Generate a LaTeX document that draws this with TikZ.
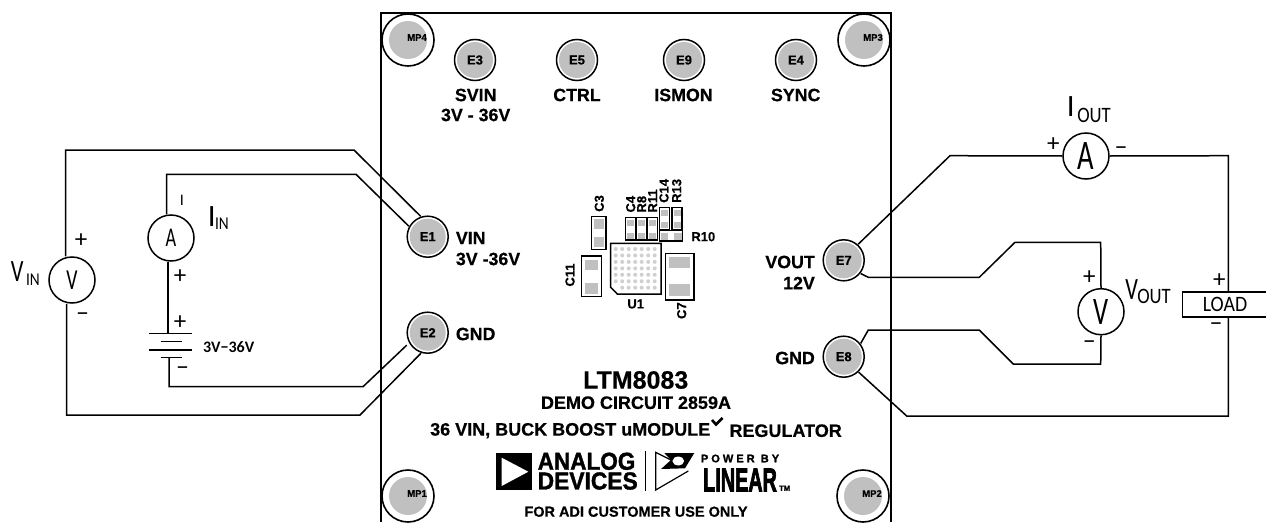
\documentclass[tikz,border=0pt]{standalone}
\usepackage{fontspec}
\usepackage{graphicx}
\setmainfont{Liberation Sans}
\newfontfamily\thinf{Carlito}
\newfontface\lab{Liberation Sans Bold}[FakeBold=0.5]
\newfontface\heavy{Liberation Sans Bold}[FakeBold=1.5]
\newfontface\xheavy{Liberation Sans Bold}[FakeBold=3]
\usetikzlibrary{calc}
\newcommand{\fsz}[1]{\fontsize{#1}{#1}\selectfont}
\newcommand{\sx}[2]{\scalebox{#1}[1]{#2}}
\definecolor{padgray}{HTML}{C0C0C0}
\definecolor{dotgray}{HTML}{D0D0D0}
\tikzset{
  wire/.style={draw=black,line width=1.5pt,line join=miter},
  board/.style={draw=black,line width=2pt},
  mpad/.style={circle,draw=black,line width=1.6pt,fill=white,minimum size=52pt,inner sep=0pt},
  mfill/.style={circle,fill=padgray,minimum size=38pt,inner sep=0pt},
  epad/.style={circle,draw=black,line width=1.5pt,fill=white,minimum size=41pt,inner sep=0pt,outer sep=1pt},
  efill/.style={circle,fill=padgray,minimum size=36pt,inner sep=0pt,font=\lab\fsz{13}},
  mplabel/.style={font=\lab\fsz{9.5},inner sep=0pt},
  blabel/.style={font=\lab\fsz{17.8},inner sep=0pt},
  clabel/.style={font=\lab\fsz{13},inner sep=0pt},
  title/.style={font=\lab\fsz{18},inner sep=0pt},
  meter/.style={circle,draw=black,line width=1.5pt,fill=white,minimum size=46pt,inner sep=0pt},
  thin/.style={font=\thinf\fsz{22},inner sep=0pt},
  sign/.style={font=\thinf\fsz{25},inner sep=0pt},
  part/.style={draw=black,line width=1.5pt,fill=white},
  padfill/.style={fill=padgray,draw=none},
}
\begin{document}
\begin{tikzpicture}[x=1pt,y=-1pt]
\useasboundingbox (0,0) rectangle (1266,522);
\fill[white] (0,0) rectangle (1266,522);
% board
\draw[board] (380.5,522) -- (380.5,13) -- (890.5,13) -- (890.5,522);
% mounting pads
\foreach \n/\x/\y in {MP4/408/40,MP3/864/40,MP1/408/496,MP2/863/496}{
  \node[mpad] (\n) at (\x,\y) {};
  \node[mfill] (\n f) at (\x,\y) {};
  \node[mplabel] (\n t) at ($(\n)+(9,-2.5)$) {\n};
}
% E pads
\foreach \n/\x/\y in {E3/475/60,E5/577/60,E9/684/60,E4/796/60,E1/427.7/236.7,E2/427.7/332.7,E7/843.7/260.3,E8/843.7/356.7}{
  \node[epad] (\n) at (\x,\y) {};
  \node[efill] (\n f) at (\x,\y) {\n};
}
% pad labels
\node[blabel] (svin) at (475.7,95) {SVIN};
\node[blabel] (svinv) at (475.7,115) {3V - 36V};
\node[blabel] (ctrl) at (577,95) {CTRL};
\node[blabel] (ismon) at (683.5,95) {ISMON};
\node[blabel] (sync) at (795.7,95) {SYNC};
\node[blabel,anchor=west] (vin) at (455.7,238) {VIN};
\node[blabel,anchor=west] (vinv) at (455.7,259) {3V -36V};
\node[blabel,anchor=west] (gndl) at (455.7,334) {GND};
\node[blabel,anchor=east] (vout) at (815,262) {VOUT};
\node[blabel,anchor=east] (voutv) at (815,283) {12V};
\node[blabel,anchor=east] (gndr) at (815,358) {GND};
% meters
\node[meter] (VM) at (72,280) {\thinf\fsz{29}\sx{.68}{V}};
\node[meter] (AM) at (171,238) {\thinf\fsz{27}\sx{.68}{A}};
\node[meter] (AO) at (1086,156) {\thinf\fsz{42}\sx{.68}{A}};
\node[meter] (VO) at (1101,311.7) {\thinf\fsz{39}\sx{.68}{V}};
\node[draw=black,line width=1.5pt,fill=white,minimum width=85pt,minimum height=25pt,inner sep=0pt,font=\thinf\fsz{22}] (LOAD) at (1225,304.5) {\sx{.9}{LOAD}};
% battery
\coordinate (bt) at (168,333.5);
\coordinate (bb) at (169,357.3);
\draw[wire] (149,333.5) -- (192,333.5);
\draw[wire] (160.7,341.7) -- (181.7,341.7);
\draw[wire] (149,350) -- (192,350);
\draw[wire] (160.7,357.3) -- (181.7,357.3);
% left wires
\draw[wire] (VM.north -| 65.7,0) -- (65.7,150) -- (354,150) -- (E1.109.5);
\draw[wire] (AM.north -| 166.7,0) -- (166.7,174.3) -- (356,174.3) -- (E1.151);
\draw[wire] (VM.south -| 66.7,0) -- (66.7,415) -- (360,415) -- (E2.252);
\draw[wire] (AM.south -| 168,0) -- (bt);
\draw[wire,shorten >=3pt] (bb) -- (169,386.7) -- (363,386.7) -- (E2.209);
% right wires
\draw[wire] (E7.48) -- (950,155.7) -- (AO.west);
\draw[wire] (AO.east) -- (1228.3,155.7) -- (1228.3,292);
\draw[wire] (1228.3,317) -- (1228.3,416) -- (906.7,416) -- (E8.-46);
\draw[wire] (E7.-38) -- (868.3,277.3) -- (979.3,277.3) -- (1015,242.3) -- (1100.7,242.3) -- (VO.north);
\draw[wire] (VO.south) -- (1100.7,364) -- (1013.3,364) -- (979.3,330) -- (868.3,330) -- (E8.38);
% signs and thin labels
\node[sign] (s1) at (81,240.7) {+};
\node[sign] (s2) at (82.7,317.5) {−};
\node[sign] (s3) at (180,276.7) {+};
\node[sign] (s4) at (180,323) {+};
\node[sign] (s5) at (182.7,371.2) {−};
\node[sign] (s6) at (1053.3,145) {+};
\node[sign] (s7) at (1121,151) {−};
\node[sign] (s8) at (1089.3,277.7) {+};
\node[sign] (s9) at (1089.3,345) {−};
\node[sign] (s10) at (1219.3,281) {+};
\node[sign] (s11) at (1216,327.5) {−};
\node[thin,font=\thinf\fsz{16}] (ii) at (182,200.7) {I};
\node[thin,font=\thinf\fsz{31}] (vinV) at (17.3,271.7) {\sx{.72}{V}};
\node[thin,font=\thinf\fsz{18}] (vinI) at (33,280) {\sx{.85}{IN}};
\node[thin,font=\thinf\fsz{31}] (iinI) at (211.7,217) {I};
\node[thin,font=\thinf\fsz{18}] (iinN) at (222,224) {\sx{.85}{IN}};
\node[thin,font=\thinf\fsz{31}] (ioutI) at (1070.7,106.7) {I};
\node[thin,font=\thinf\fsz{22}] (ioutO) at (1094,115) {\sx{.85}{OUT}};
\node[thin,font=\thinf\fsz{31}] (voutV) at (1131.7,290) {\sx{.72}{V}};
\node[thin,font=\thinf\fsz{22}] (voutO) at (1154,296.7) {\sx{.85}{OUT}};
\node[font=\thinf\bfseries\fsz{16},inner sep=0pt] (batv) at (228.7,346.7) {3V−36V};
% components
\draw[part] (591.7,216.7) rectangle (606,249.3);
\fill[padfill] (594,219.3) rectangle (604,229);
\fill[padfill] (594,236.7) rectangle (604,246.7);
\foreach \x in {625.7,636.7,647.3}{
  \draw[part] (\x,217.3) rectangle ++(10,22.7);
  \fill[padfill] (\x+1.5,219.5) rectangle ++(7,6.5);
  \fill[padfill] (\x+1.5,232.5) rectangle ++(7,6);
}
\foreach \x in {659.3,672}{
  \draw[part] (\x,207.3) rectangle ++(10,22.5);
  \fill[padfill] (\x+1.5,209.5) rectangle ++(7,6.5);
  \fill[padfill] (\x+1.5,221.5) rectangle ++(7,6.5);
}
\draw[part] (659.3,230.7) rectangle (682.7,241);
\fill[padfill] (660.7,232.5) rectangle (668.3,239.5);
\fill[padfill] (674,232.5) rectangle (681.7,239.5);
\draw[part] (581.7,256) rectangle (601.7,296.7);
\fill[padfill] (585,260) rectangle (598.3,270);
\fill[padfill] (585,283.3) rectangle (598.3,294);
\draw[part] (665.7,253.3) rectangle (694,300);
\fill[padfill] (669.3,256.7) rectangle (690,268.3);
\fill[padfill] (669.3,284) rectangle (690,296);
\draw[part] (610.7,243.3) -- (661,243.3) -- (661,294) -- (617.3,294) -- (610.7,287.3) -- cycle;
\foreach \i in {0,...,6}{\foreach \j in {0,...,6}{
  \pgfmathparse{(\i==0 && \j==6) ? 0 : 1}
  \ifnum\pgfmathresult>0\relax
  \fill[dotgray] (615.7+6.5*\i,249+6.45*\j) circle (2pt);
  \fi
}}
\node[clabel,rotate=90,anchor=west] (c3) at (599.3,212) {C3};
\node[clabel,rotate=90,anchor=west] (c4) at (630.7,212.7) {C4};
\node[clabel,rotate=90,anchor=west] (r8) at (641.7,212.7) {R8};
\node[clabel,rotate=90,anchor=west] (r11) at (652.7,212.7) {R11};
\node[clabel,rotate=90,anchor=west] (c14) at (664,203) {C14};
\node[clabel,rotate=90,anchor=west] (r13) at (676.7,203) {R13};
\node[clabel] (r10) at (703.3,236.7) {R10};
\node[clabel,rotate=90] (c11) at (570,275) {C11};
\node[clabel] (u1) at (635.7,304) {U1};
\node[clabel,rotate=90] (c7) at (681.7,310.7) {C7};
% titles
\node[inner sep=0pt,font=\lab\fsz{25}] (ltm) at (635.7,380) {LTM8083};
\node[title] (demo) at (636,402.7) {DEMO CIRCUIT 2859A};
\node[title,anchor=west] (l3a) at (430,430.7) {36 VIN, BUCK BOOST uMODULE};
\node[title,anchor=east] (l3b) at (842,430.7) {REGULATOR};
\draw[line width=2.6pt] (712,420) -- (716,424.5) -- (722.5,418);
\node[inner sep=0pt,font=\lab\fsz{14.5}] (fa) at (636,511.7) {FOR ADI CUSTOMER USE ONLY};
% Analog Devices logo
\fill[black] (495.7,452.7) rectangle (532.3,490);
\fill[white] (501.7,457.7) -- (528.3,471.7) -- (501.7,486) -- cycle;
\node[inner sep=0pt,anchor=west,font=\heavy\fsz{24.5}] (analog) at (537.5,461.3) {\sx{.92}{ANALOG}};
\node[inner sep=0pt,anchor=west,font=\heavy\fsz{24.5}] (devices) at (537.5,481) {\sx{.93}{DEVICES}};
\draw[line width=1pt] (645.7,450.7) -- (645.7,490.7);
% Linear logo
\draw[line width=1.2pt] (671,460) -- (655.7,452.3) -- (655.7,490) -- (688.3,471);
\fill[black,even odd rule] (664.3,453) -- (694.3,453) -- (685,468.3) -- (661,469) -- (671,460) -- cycle (678.3,461) ellipse (6pt and 4.5pt);
\node[inner sep=0pt,anchor=west,font=\heavy\fsz{11}] (pb) at (700.7,458.5) {P O W E R\ \ B Y};
\node[inner sep=0pt,anchor=west,font=\xheavy\fsz{33}] (lin) at (703,480) {\sx{.6}{LINEAR}};
\node[inner sep=0pt,anchor=west,font=\heavy\fsz{7.5}] (tm) at (779,488.2) {TM};
\end{tikzpicture}
\end{document}
